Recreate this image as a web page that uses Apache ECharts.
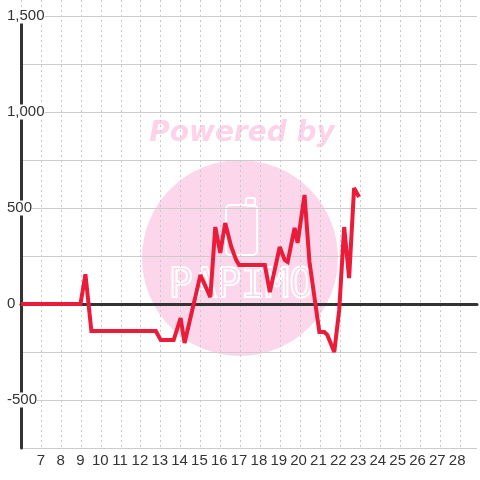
<!DOCTYPE html>
<html>
<head>
<meta charset="utf-8">
<script src="https://cdn.jsdelivr.net/npm/echarts@6/dist/echarts.min.js"></script>
<style>
    html, body { margin: 0; padding: 0; background: #fff; }
    #chart { width: 480px; height: 480px; }
</style>
</head>
<body>
<div id="chart"></div>
<script>
// x positions (day) and values
const xs = [6, 9, 9.25, 9.55, 12.8, 13.05, 13.7, 14.05, 14.25, 15.05, 15.55, 15.8, 16.05, 16.3, 16.6, 16.85, 17.0,
    18.3, 18.55, 19.05, 19.3, 19.45, 19.8, 19.95, 20.3, 20.55, 21.05, 21.3, 21.45, 21.8, 22.05, 22.3, 22.55, 22.8, 23.05];
const ys = [0, 0, 155, -141, -141, -188, -188, -73, -203, 151, 36, 401, 266, 422, 300, 230, 203,
    203, 62, 297, 229, 219, 396, 318, 568, 219, -146, -146, -161, -250, -31, 401, 135, 604, 557];

const xMin = 6, xMax = 29;
const yMin = -750, yMax = 1500;

const font = 'Liberation Sans';
const chart = echarts.init(document.getElementById('chart'));

const option = {
    backgroundColor: '#fff',
    animation: false,
    grid: [
        { left: 21, right: 0, top: 16, bottom: 32 },
        { left: 21, right: 0, top: 0, bottom: 32 } // 竖向虚线网格，一直画到顶部
    ],
    graphic: [
        {
            type: 'circle', z: -10,
            shape: { cx: 240, cy: 258, r: 98 },
            style: { fill: '#fcd6eb' }
        },
        {
            type: 'text', z: -10,
            x: 242, y: 134,
            style: {
                text: 'Powered by', fill: '#fdd3ea',
                font: 'italic bold 28px "DejaVu Sans"',
                align: 'center', verticalAlign: 'middle'
            }
        },
        {
            type: 'rect', z: -9,
            shape: { x: 226, y: 205, width: 31, height: 50, r: 4 },
            style: { fill: 'none', stroke: '#fff', lineWidth: 2 }
        },
        {
            type: 'rect', z: -9,
            shape: { x: 246, y: 198, width: 9, height: 8, r: 2 },
            style: { fill: 'none', stroke: '#fff', lineWidth: 2 }
        },
        {
            type: 'text', z: -9,
            x: 241, y: 287,
            style: {
                text: 'PAPIMO', fill: 'none', stroke: '#fff', lineWidth: 2,
                font: '40px "DejaVu Sans Mono"',
                align: 'center', verticalAlign: 'middle'
            }
        }
    ],
    xAxis: [
        {
            type: 'value', gridIndex: 0, min: xMin, max: xMax, interval: 1,
            position: 'bottom',
            axisLine: { show: false, onZero: false },
            axisTick: { show: false },
            splitLine: { show: false },
            axisLabel: {
                margin: 5, color: '#333', fontSize: 15, fontFamily: font,
                formatter: v => (v === xMin || v === xMax) ? '' : String(v)
            }
        },
        {
            // 0 线
            type: 'value', gridIndex: 0, min: xMin, max: xMax,
            position: 'top',
            axisLine: { show: true, onZero: true, lineStyle: { color: '#333', width: 3 } },
            axisTick: { show: false },
            axisLabel: { show: false },
            splitLine: { show: false }
        },
        {
            type: 'value', gridIndex: 1, min: xMin, max: xMax, interval: 1,
            axisLine: { show: false },
            axisTick: { show: false },
            axisLabel: { show: false },
            splitLine: { show: true, lineStyle: { color: '#c8c8c8', type: [2, 3], width: 1 } }
        }
    ],
    yAxis: [
        {
            type: 'value', gridIndex: 0, min: yMin, max: yMax, interval: 250,
            axisLine: { show: true, lineStyle: { color: '#333', width: 3 } },
            axisTick: { show: false },
            splitLine: { show: true, lineStyle: { color: '#cccccc', width: 1 } },
            axisLabel: {
                align: 'left', margin: 14,
                color: '#333', fontSize: 15, fontFamily: font,
                backgroundColor: '#fff',
                formatter: v => v % 500 === 0 ? v.toLocaleString('en-US') : ''
            }
        },
        {
            type: 'value', gridIndex: 1, min: 0, max: 1, show: false
        }
    ],
    series: [
        {
            type: 'line',
            xAxisIndex: 0, yAxisIndex: 0,
            data: xs.map((x, i) => [x, ys[i]]),
            showSymbol: false,
            lineStyle: { color: '#ea1c3a', width: 4, join: 'miter', miterLimit: 2 },
            z: 5
        }
    ]
};
chart.setOption(option);
</script>
</body>
</html>
